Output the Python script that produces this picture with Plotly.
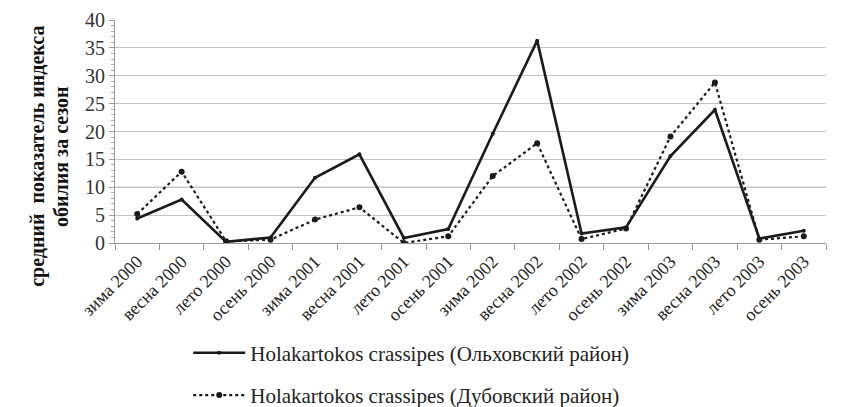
import plotly.graph_objects as go

seasons = ["зима 2000", "весна 2000", "лето 2000", "осень 2000",
           "зима 2001", "весна 2001", "лето 2001", "осень 2001",
           "зима 2002", "весна 2002", "лето 2002", "осень 2002",
           "зима 2003", "весна 2003", "лето 2003", "осень 2003"]

olkhovsky = [4.4, 7.8, 0.2, 1.0, 11.7, 15.9, 0.9, 2.5,
             19.6, 36.3, 1.7, 2.8, 15.6, 23.9, 0.8, 2.2]
dubovsky = [5.2, 12.8, 0.3, 0.6, 4.2, 6.4, 0.0, 1.2,
            12.0, 17.9, 0.7, 2.6, 19.1, 28.8, 0.6, 1.2]

serif = "Liberation Serif"

fig = go.Figure()

fig.add_trace(go.Scatter(
    x=seasons, y=olkhovsky,
    mode="lines+markers",
    name="Holakartokos crassipes (Ольховский район)",
    line=dict(color="#1a1a1a", width=2.6),
    marker=dict(size=4, color="#1a1a1a"),
    legendgroup="a"
))

fig.add_trace(go.Scatter(
    x=seasons, y=dubovsky,
    mode="lines+markers",
    name="Holakartokos crassipes (Дубовский район)",
    line=dict(color="#1a1a1a", width=2.2, dash="dot"),
    marker=dict(size=6, color="#1a1a1a"),
    legendgroup="b"
))

# более тёмная линия на уровне 10
fig.add_shape(type="line", xref="paper", yref="y", x0=0, x1=1, y0=10, y1=10,
              line=dict(color="#8a8a8a", width=1.2), layer="below")

# страница смещена на 8px (отступ body), поэтому поля уменьшены
fig.update_layout(
    width=847, height=407,
    margin=dict(l=107, r=29, t=12, b=172, autoexpand=False),
    plot_bgcolor="white",
    paper_bgcolor="white",
    font=dict(family=serif, color="#222", size=17),
    showlegend=True,
    legend=dict(
        orientation="v",
        x=0.103, xanchor="left",
        y=-0.402, yanchor="top",
        font=dict(family=serif, size=21, color="#222"),
        tracegroupgap=12,
        itemwidth=52,
        bgcolor="rgba(0,0,0,0)"
    ),
    annotations=[
        dict(text="<b>средний  показатель индекса</b>", xref="paper", yref="paper",
             x=-0.110, y=0.39, textangle=-90, showarrow=False,
             font=dict(family=serif, size=20, color="#111"),
             xanchor="center", yanchor="middle"),
        dict(text="<b>обилия за сезон</b>", xref="paper", yref="paper",
             x=-0.076, y=0.39, textangle=-90, showarrow=False,
             font=dict(family=serif, size=20, color="#111"),
             xanchor="center", yanchor="middle"),
    ],
)

fig.update_xaxes(
    type="category",
    range=[-0.5, 15.5],
    tickangle=-45,
    tickson="boundaries",
    ticks="outside", ticklen=6, tickcolor="#999",
    showline=True, linecolor="#999", linewidth=1,
    showgrid=False,
    tickfont=dict(family=serif, size=18, color="#222"),
)

fig.update_yaxes(
    range=[0, 40],
    dtick=5,
    ticks="outside", ticklen=5, tickcolor="#999",
    showline=True, linecolor="#999", linewidth=1,
    showgrid=True, gridcolor="#c4c4c4", gridwidth=1,
    zeroline=False,
    ticklabeloverflow="allow",
    tickfont=dict(family=serif, size=20, color="#333"),
    minor=dict(dtick=1, ticks="outside", ticklen=3, tickcolor="#aaa", showgrid=False),
)

fig.write_html("out.html")
